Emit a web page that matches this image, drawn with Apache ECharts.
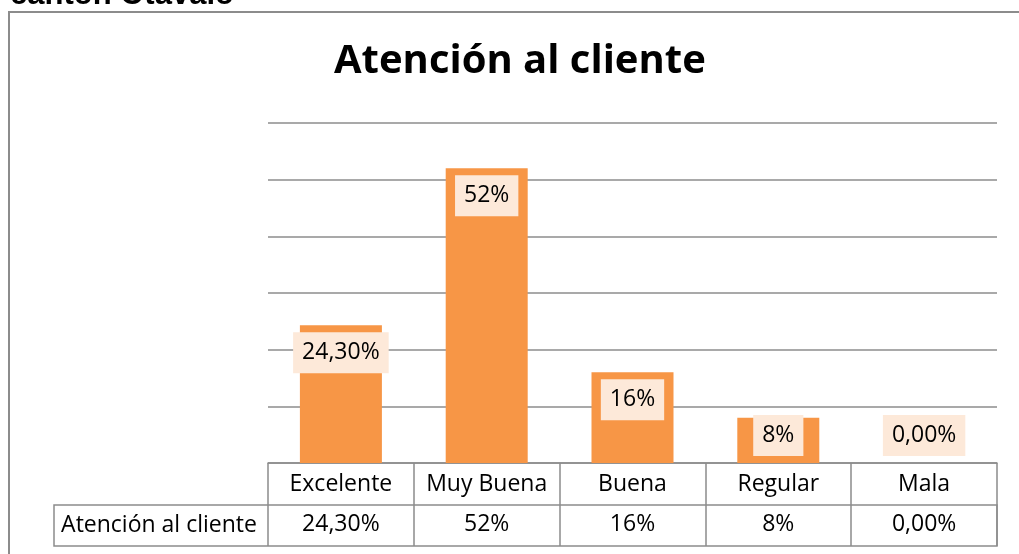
<!DOCTYPE html>
<html>
<head>
<meta charset="utf-8">
<script src="https://cdn.jsdelivr.net/npm/echarts@6/dist/echarts.min.js"></script>
<style>
    html, body { margin: 0; padding: 0; background: #fff; }
    #chart { width: 1019px; height: 554px; }
</style>
</head>
<body>
<div id="chart"></div>
<script>
    // datos del gráfico
    var categorias = ['Excelente', 'Muy Buena', 'Buena', 'Regular', 'Mala'];
    var valores = [24.3, 52, 16, 8, 0];
    var etiquetas = ['24,30%', '52%', '16%', '8%', '0,00%'];
    var nombreSerie = 'Atención al cliente';

    var fuente = '"Open Sans", "Noto Sans", sans-serif';
    var gris = '#8c8c8c';

    // barras cortas: la etiqueta va abajo
    var datosBarras = valores.map(function (v) {
        if (v < 10) {
            return { value: v, label: { position: 'insideBottom', distance: 7 } };
        }
        return v;
    });

    var chart = echarts.init(document.getElementById('chart'));
    var option = {
        animation: false,
        backgroundColor: '#fff',
        title: {
            text: nombreSerie,
            left: 329,
            top: 37,
            textStyle: { fontFamily: fuente, fontSize: 40, fontWeight: 'bold', color: '#000' }
        },
        grid: { left: 268, right: 22, top: 123, bottom: 91 },
        xAxis: [
            {
                type: 'category',
                data: categorias,
                axisLine: { show: true, lineStyle: { color: gris, width: 1.5 } },
                axisTick: { show: true, interval: 0, length: 83, lineStyle: { color: gris, width: 1.5 } },
                axisLabel: { interval: 0, margin: 10, fontFamily: fuente, fontSize: 23, color: '#000' }
            },
            {
                type: 'category',
                data: categorias,
                position: 'bottom',
                offset: 42,
                axisLine: { show: false },
                axisTick: { show: false },
                axisLabel: {
                    interval: 0, margin: 8, fontFamily: fuente, fontSize: 23, color: '#000',
                    formatter: function (val, idx) { return etiquetas[idx]; }
                }
            }
        ],
        yAxis: {
            type: 'value',
            min: 0,
            max: 60,
            interval: 10,
            axisLine: { show: false },
            axisTick: { show: false },
            axisLabel: { show: false },
            splitLine: { lineStyle: { color: gris, width: 1.5 } }
        },
        series: [{
            name: nombreSerie,
            type: 'bar',
            barWidth: 82,
            data: datosBarras,
            itemStyle: { color: '#F79646' },
            label: {
                show: true,
                position: 'insideTop',
                distance: 7,
                fontFamily: fuente,
                fontSize: 23,
                color: '#000',
                backgroundColor: '#FDE9D9',
                padding: [9, 9],
                formatter: function (p) { return etiquetas[p.dataIndex]; }
            }
        }],
        graphic: [
            // marco del gráfico
            {
                type: 'rect',
                shape: { x: 9, y: 12, width: 1100, height: 700 },
                style: { fill: 'none', stroke: gris, lineWidth: 2 }
            },
            // texto cortado arriba
            {
                type: 'text',
                x: 10,
                y: 11,
                style: {
                    text: 'cantón Otavalo', font: 'bold 31px "Liberation Sans", Arial, sans-serif',
                    fill: '#000', verticalAlign: 'bottom'
                }
            },
            // fila de valores de la tabla
            {
                type: 'rect',
                shape: { x: 54, y: 505, width: 943, height: 41 },
                style: { fill: 'none', stroke: gris, lineWidth: 1.5 }
            },
            {
                type: 'text',
                x: 159,
                y: 525,
                style: {
                    text: nombreSerie, font: '23px ' + fuente, fill: '#000',
                    align: 'center', verticalAlign: 'middle'
                }
            }
        ]
    };
    chart.setOption(option);
    window.addEventListener('resize', function () { chart.resize(); });
</script>
</body>
</html>
